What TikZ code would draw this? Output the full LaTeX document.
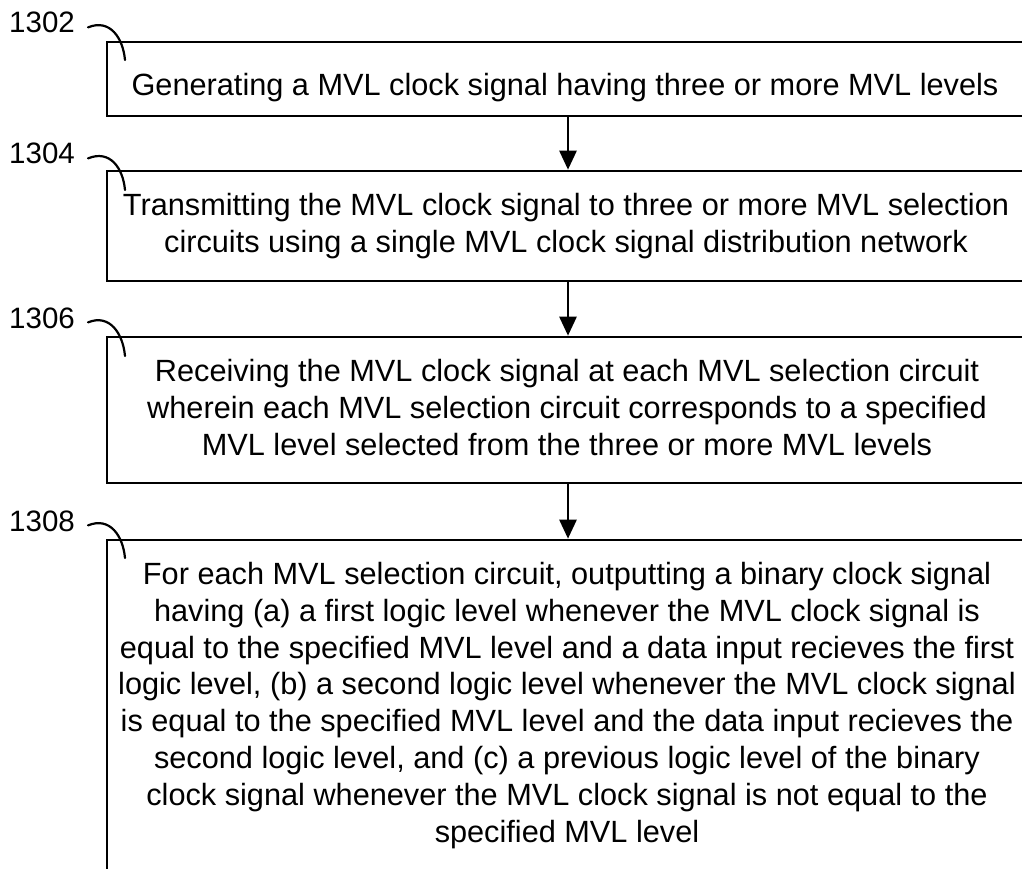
\documentclass[tikz,border=0pt]{standalone}
\usepackage{fontspec}
\setmainfont{Liberation Sans}
\usetikzlibrary{arrows.meta}
\begin{document}
\begin{tikzpicture}[x=1pt,y=-1pt,
  boxst/.style={draw,line width=2.6pt,minimum width=922pt,inner sep=0pt},
  txt/.style={align=center,inner sep=0pt,font=\fontsize{30.7}{36.8}\selectfont},
  lab/.style={inner sep=0pt,anchor=base west,font=\fontsize{29.5}{34}\selectfont},
  arr/.style={line width=2.6pt,-{Triangle[length=19pt,width=17pt]}},
  lead/.style={line width=2.2pt,line cap=round}]
\useasboundingbox (0,0) rectangle (1022,869);
\clip (0,0) rectangle (1022,869);
% boxes
\node[boxst,minimum height=74pt] (b1) at (568,79) {};
\node[boxst,minimum height=110pt] (b2) at (568,226) {};
\node[boxst,minimum height=146pt] (b3) at (568,410) {};
\node[boxst,minimum height=400pt] (b4) at (568,740) {};
% texts (base anchor = baseline of last line)
\node[txt,anchor=base] (t1) at (565,96) {Generating a MVL clock signal having three or more MVL levels};
\node[txt,anchor=base] (t2) at (566,252) {Transmitting the MVL clock signal to three or more MVL selection\\circuits using a single MVL clock signal distribution network};
\node[txt,anchor=base] (t3) at (567,455) {Receiving the MVL clock signal at each MVL selection circuit\\wherein each MVL selection circuit corresponds to a specified\\MVL level selected from the three or more MVL levels};
\node[txt,anchor=base] (t4) at (567,842) {For each MVL selection circuit, outputting a binary clock signal\\having (a) a first logic level whenever the MVL clock signal is\\equal to the specified MVL level and a data input recieves the first\\logic level, (b) a second logic level whenever the MVL clock signal\\is equal to the specified MVL level and the data input recieves the\\second logic level, and (c) a previous logic level of the binary\\clock signal whenever the MVL clock signal is not equal to the\\specified MVL level};
% arrows
\draw[arr] (b1.south) -- (b2.north);
\draw[arr] (b2.south) -- (b3.north);
\draw[arr] (b3.south) -- (b4.north);
% labels
\node[lab] (l1) at (9,33) {1302};
\node[lab] (l2) at (9,164) {1304};
\node[lab] (l3) at (9,328) {1306};
\node[lab] (l4) at (9,531) {1308};
\coordinate (e1) at (125,60);
\coordinate (e2) at (125,190);
\coordinate (e3) at (125,356);
\coordinate (e4) at (125,558);
\draw[lead] ([xshift=13pt,yshift=3pt]l1.mid east) .. controls +(22,-9) and (123,38) .. (e1);
\draw[lead] ([xshift=13pt,yshift=3pt]l2.mid east) .. controls +(22,-9) and (123,168) .. (e2);
\draw[lead] ([xshift=13pt,yshift=3pt]l3.mid east) .. controls +(22,-9) and (123,334) .. (e3);
\draw[lead] ([xshift=13pt,yshift=3pt]l4.mid east) .. controls +(22,-9) and (123,536) .. (e4);
\end{tikzpicture}
\end{document}
